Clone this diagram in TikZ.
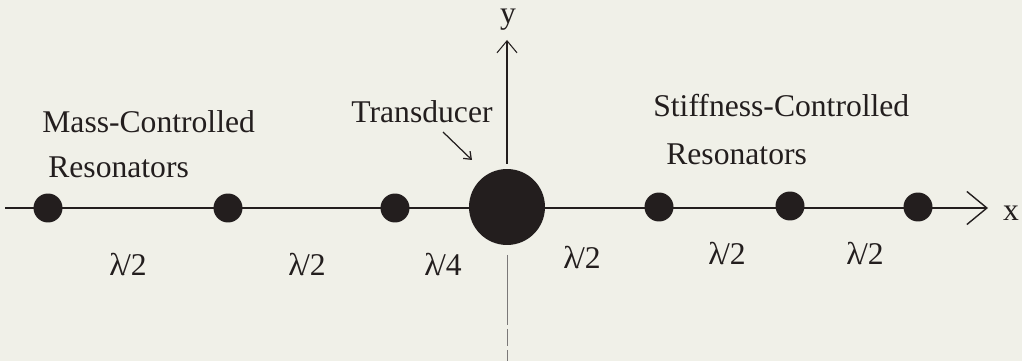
\documentclass[tikz,border=0pt]{standalone}
\usepackage{fontspec}
\setmainfont{Liberation Serif}
\usetikzlibrary{arrows.meta}
\definecolor{paper}{RGB}{240,240,232}
\definecolor{ink}{RGB}{35,30,30}
\begin{document}
\begin{tikzpicture}[x=0.02cm,y=-0.02cm,
  lbl/.style={font=\fontsize{18}{20}\selectfont, text=ink, inner sep=0pt},
  lam/.style={font=\fontsize{18}{20}\selectfont, text=ink, inner sep=0pt},
  dot/.style={circle, fill=ink, minimum size=0.58cm, inner sep=0pt},
  bigdot/.style={circle, fill=ink, minimum size=1.52cm, inner sep=0pt},
  axis/.style={draw=ink, line width=0.8pt},
  vaxis/.style={draw=ink, line width=0.6pt}]
\fill[paper] (0,0) rectangle (1022,361);
\useasboundingbox (0,0) rectangle (1022,361);
% axes end points
\coordinate (xl) at (5,208);
\coordinate (xr) at (988,208);
\coordinate (ytop) at (507,40);
\coordinate (yup) at (507,164);
\coordinate (ylow) at (507,255);
\coordinate (ybot) at (507,361);
\draw[axis, -{Straight Barb[length=0.4cm,width=0.66cm]}] (xl) -- (xr);
\draw[vaxis, -{Straight Barb[length=0.24cm,width=0.4cm]}] (yup) -- (ytop);
\draw[vaxis, draw=ink!60, line width=0.5pt, dash pattern=on 40pt off 2pt on 10pt off 2pt] (ylow) -- (ybot);
% resonators and transducer
\node[dot] (d1) at (48,208) {};
\node[dot] (d2) at (228,208) {};
\node[dot] (d3) at (395,208) {};
\node[bigdot] (T) at (507,207) {};
\node[dot] (d4) at (659,207) {};
\node[dot] (d5) at (790,206) {};
\node[dot] (d6) at (918,207) {};
% axis labels
\node[lbl] (xlab) at (1011,213) {x};
\node[lbl, anchor=base] (ylab) at (508,24) {y};
% text labels
\node[lbl, anchor=west] (mass) at (42,122) {Mass-Controlled};
\node[lbl, anchor=west] (massr) at (48,167) {Resonators};
\node[lbl, anchor=west] (stiff) at (653,106) {Stiffness-Controlled};
\node[lbl, anchor=west] (stiffr) at (666,154) {Resonators};
\node[lbl] (trans) at (422,112) {Transducer};
\coordinate (tstart) at (443,132);
\coordinate (tarrow) at (472,160);
\draw[draw=ink, line width=0.7pt, -{Straight Barb[length=0.13cm,width=0.2cm]}] (tstart) -- (tarrow);
% spacing labels
\node[lam] (l1) at (128,265) {λ\kern-1.5pt/2};
\node[lam] (l2) at (307,265) {λ\kern-1.5pt/2};
\node[lam] (l3) at (443,265) {λ\kern-1.5pt/4};
\node[lam] (l4) at (582,258) {λ\kern-1.5pt/2};
\node[lam] (l5) at (727,254) {λ\kern-1.5pt/2};
\node[lam] (l6) at (865,254) {λ\kern-1.5pt/2};
\end{tikzpicture}
\end{document}
